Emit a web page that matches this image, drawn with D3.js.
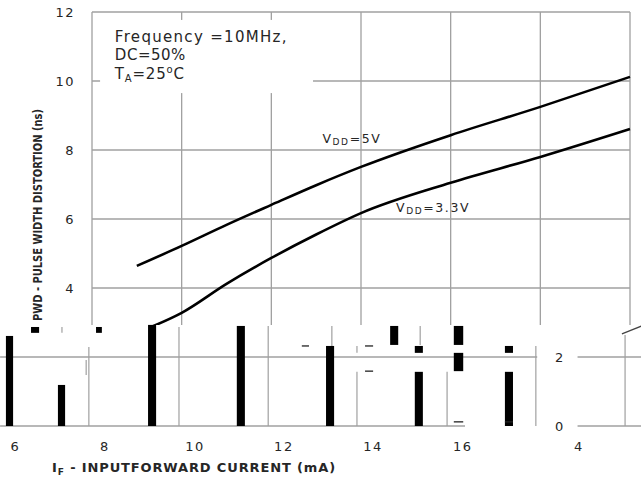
<!DOCTYPE html>
<html>
<head>
<meta charset="utf-8">
<script src="https://cdn.jsdelivr.net/npm/d3@7"></script>
<style>
    body { margin: 0; background: #fff; }
    svg { display: block; }
    text { font-family: "DejaVu Sans", Verdana, sans-serif; fill: #262626; }
</style>
</head>
<body>
<svg id="chart" width="641" height="479"></svg>
<script>
// PWD (ns) against I_F (mA), two supply voltages
var vdd5Current = [5, 6, 7, 8, 9, 10, 12, 14, 16]
var vdd5Pwd = [4.64, 5.22, 5.83, 6.41, 6.98, 7.51, 8.43, 9.25, 10.12]
var vdd33Current = [5.3, 6, 7, 8, 9, 10, 12, 14, 16]
var vdd33Pwd = [2.86, 3.28, 4.12, 4.87, 5.55, 6.17, 7.05, 7.8, 8.61]

var xGrid = [4, 6, 8, 10, 12, 14, 16]
var yGrid = [4, 6, 8, 10, 12]
var yTickLabels = ['4', '6', '8', '10', '12']

// the bottom strip of the picture is torn: labels slid sideways
var xTickLabels = ['6', '8', '10', '12', '14', '16', '4']
var xTickSlots = [2.29, 4.29, 6.3, 8.28, 10.27, 12.27, 14.86]
var stripTop = 2.93
var stripYLabels = ['0', '2']
var stripYValues = [0, 2]
var stripYSlot = 14.51

// [from mA, to mA, top ns, bottom ns]
var tornBars = [
    [2.08, 2.24, 2.61, 0],
    [2.64, 2.82, 2.87, 2.70],
    [3.24, 3.40, 1.19, 0],
    [4.09, 4.22, 2.87, 2.70],
    [5.25, 5.43, 2.93, 0],
    [7.23, 7.41, 2.90, 0],
    [9.22, 9.40, 2.32, 0],
    [10.65, 10.83, 2.90, 2.35],
    [11.20, 11.38, 2.32, 2.12],
    [11.20, 11.38, 1.57, 0],
    [12.07, 12.28, 2.90, 2.35],
    [12.07, 12.28, 2.12, 1.59],
    [13.21, 13.39, 2.32, 2.12],
    [13.21, 13.39, 1.57, 0]
]
// [mA, top ns, bottom ns]
var tornGrid = [
    [3.33, 2.87, 2.70], [3.87, 1.91, 1.48], [3.93, 2.29, 0], [5.94, 2.87, 0],
    [7.93, 2.90, 0], [9.35, 2.90, 2.32], [9.91, 2.32, 2.12], [9.91, 1.57, 0],
    [11.32, 2.90, 2.35], [11.92, 1.57, 0], [13.90, 2.32, 0], [15.89, 2.64, 0]
]
// [ns, from mA, to mA]
var tornRules = [[2, 1.95, 13.93], [2, 14.83, 16.3], [0, 1.95, 12.32], [0, 14.83, 16.3]]
// [from mA, to mA, ns]
var tornDashes = [
    [8.68, 8.84, 2.32], [10.09, 10.27, 2.32], [10.09, 10.27, 1.59],
    [12.07, 12.28, 0.12], [13.21, 13.39, 0.12]
]
var tornCurveCurrent = [15.82, 16.3]
var tornCurvePwd = [2.67, 2.92]

var svg = d3.select('#chart')
var x = d3.scaleLinear().domain([4, 16]).range([92, 630])
var y = d3.scaleLinear().domain([0, 12]).range([426, 12])
var gridColor = '#a0a0a0'

function zipPoints(xs, ys) {
    return xs.map(function(v, i) { return [v, ys[i]] })
}

function fitWidth(sel, width) {
    var node = sel.node()
    var len = node.getComputedTextLength()
    var n = node.textContent.length
    sel.attr('letter-spacing', (width - len) / n)
}

svg.append('defs').append('clipPath').attr('id', 'upper')
    .append('rect')
    .attr('x', 0).attr('y', 0)
    .attr('width', 641).attr('height', y(stripTop))

var main = svg.append('g').attr('clip-path', 'url(#upper)')

// grid
main.selectAll('line.vgrid').data(xGrid).enter().append('line')
    .attr('x1', function(d) { return x(d) }).attr('x2', function(d) { return x(d) })
    .attr('y1', y(12)).attr('y2', y(0))
    .attr('stroke', gridColor).attr('stroke-width', 1.3)
main.selectAll('line.hgrid').data(yGrid).enter().append('line')
    .attr('x1', x(4)).attr('x2', x(16))
    .attr('y1', function(d) { return y(d) }).attr('y2', function(d) { return y(d) })
    .attr('stroke', gridColor).attr('stroke-width', 1.3)

// box behind the conditions note
main.append('rect')
    .attr('x', x(4.18)).attr('y', y(11.77))
    .attr('width', x(8.93) - x(4.18)).attr('height', y(9.65) - y(11.77))
    .attr('fill', '#fff')

var line = d3.line()
    .x(function(d) { return x(d[0]) })
    .y(function(d) { return y(d[1]) })
    .curve(d3.curveMonotoneX)

main.append('path').datum(zipPoints(vdd5Current, vdd5Pwd))
    .attr('d', line).attr('fill', 'none').attr('stroke', '#000').attr('stroke-width', 2.6)
main.append('path').datum(zipPoints(vdd33Current, vdd33Pwd))
    .attr('d', line).attr('fill', 'none').attr('stroke', '#000').attr('stroke-width', 2.6)

// y tick labels
main.selectAll('text.ytick').data(yGrid).enter().append('text')
    .attr('x', 75).attr('y', function(d) { return y(d) })
    .attr('dy', '0.36em')
    .attr('text-anchor', 'end')
    .attr('font-size', 13)
    .attr('letter-spacing', 1.5)
    .text(function(d, i) { return yTickLabels[i] })

// y title
main.append('text')
    .attr('transform', 'translate(42,' + 215 + ') rotate(-90)')
    .attr('text-anchor', 'middle')
    .attr('font-family', '"DejaVu Sans Condensed", "DejaVu Sans", sans-serif')
    .attr('font-weight', 'bold')
    .attr('font-size', 13)
    .attr('textLength', 212)
    .attr('lengthAdjust', 'spacingAndGlyphs')
    .text('PWD - PULSE WIDTH DISTORTION (ns)')

// conditions note
var note = main.append('g').attr('font-size', 15)
var n1 = note.append('text').attr('x', x(4.51)).attr('y', 42).text('Frequency =10MHz,')
fitWidth(n1, 173)
note.append('text').attr('x', x(4.51)).attr('y', 60).attr('letter-spacing', 0.5).text('DC=50%')
var n3 = note.append('text').attr('x', x(4.51)).attr('y', 79).attr('letter-spacing', 0.8)
n3.append('tspan').text('T')
n3.append('tspan').attr('font-size', 10).attr('dy', 3).text('A')
n3.append('tspan').attr('dy', -3).text('=25')
n3.append('tspan').attr('font-size', 10).attr('dy', -6).text('o')
n3.append('tspan').attr('dy', 6).text('C')

function vddLabel(px, py, value) {
    var t = main.append('text').attr('x', px).attr('y', py)
        .attr('font-size', 12.5).attr('letter-spacing', 1.6)
    t.append('tspan').text('V')
    t.append('tspan').attr('font-size', 9).attr('dy', 2).text('DD')
    t.append('tspan').attr('dy', -2).text('=' + value)
    return t
}
vddLabel(x(9.14), y(8.2), '5V')
vddLabel(x(10.78), y(6.2), '3.3V')

// torn strip
var strip = svg.append('g')
strip.selectAll('line.rule').data(tornRules).enter().append('line')
    .attr('x1', function(d) { return x(d[1]) }).attr('x2', function(d) { return x(d[2]) })
    .attr('y1', function(d) { return y(d[0]) }).attr('y2', function(d) { return y(d[0]) })
    .attr('stroke', gridColor).attr('stroke-width', 1.3)
strip.selectAll('line.tgrid').data(tornGrid).enter().append('line')
    .attr('x1', function(d) { return x(d[0]) }).attr('x2', function(d) { return x(d[0]) })
    .attr('y1', function(d) { return y(d[1]) }).attr('y2', function(d) { return y(d[2]) })
    .attr('stroke', gridColor).attr('stroke-width', 1.2)
strip.selectAll('rect.bar').data(tornBars).enter().append('rect')
    .attr('x', function(d) { return x(d[0]) })
    .attr('width', function(d) { return x(d[1]) - x(d[0]) })
    .attr('y', function(d) { return y(d[2]) })
    .attr('height', function(d) { return y(d[3]) - y(d[2]) })
    .attr('fill', '#000')
strip.selectAll('line.dash').data(tornDashes).enter().append('line')
    .attr('x1', function(d) { return x(d[0]) }).attr('x2', function(d) { return x(d[1]) })
    .attr('y1', function(d) { return y(d[2]) }).attr('y2', function(d) { return y(d[2]) })
    .attr('stroke', '#222').attr('stroke-width', 1.3)
strip.append('path').datum(zipPoints(tornCurveCurrent, tornCurvePwd))
    .attr('d', d3.line().x(function(d) { return x(d[0]) }).y(function(d) { return y(d[1]) }))
    .attr('fill', 'none').attr('stroke', '#444').attr('stroke-width', 1.3)

strip.selectAll('text.sy').data(stripYValues).enter().append('text')
    .attr('x', x(stripYSlot)).attr('y', function(d) { return y(d) })
    .attr('dy', '0.36em')
    .attr('text-anchor', 'end')
    .attr('font-size', 13)
    .attr('fill', function(d) { return d === 0 ? '#262626' : '#8a8a8a' })
    .text(function(d, i) { return stripYLabels[i] })

strip.selectAll('text.xtick').data(xTickSlots).enter().append('text')
    .attr('x', function(d) { return x(d) }).attr('y', 451)
    .attr('text-anchor', 'middle')
    .attr('font-size', 13)
    .attr('letter-spacing', 1.5)
    .text(function(d, i) { return xTickLabels[i] })

var xt = strip.append('text').attr('x', 52).attr('y', 472)
    .attr('font-weight', 'bold').attr('font-size', 13).attr('fill', '#1c2236')
xt.append('tspan').text('I')
xt.append('tspan').attr('font-size', 9).attr('dy', 3).text('F')
xt.append('tspan').attr('dy', -3).text(' - INPUTFORWARD CURRENT (mA)')
fitWidth(xt, 284)
</script>
</body>
</html>
